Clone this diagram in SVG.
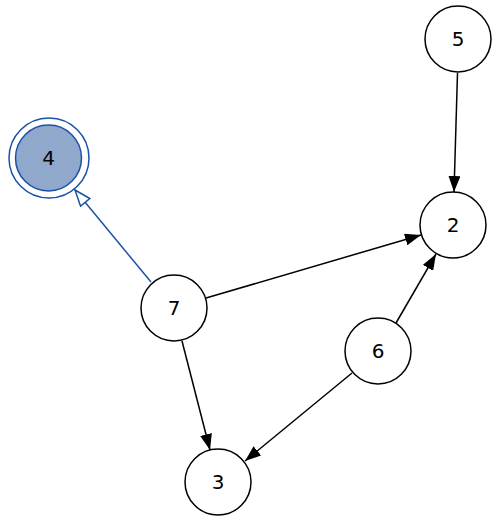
<svg xmlns="http://www.w3.org/2000/svg" width="500" height="524" viewBox="0 0 500 524">
<style>
.n{fill:#fff;stroke:#000;stroke-width:1.5}
.t{font-family:"DejaVu Sans",sans-serif;font-size:20px;text-anchor:middle;dominant-baseline:central;fill:#000}
.e{stroke:#000;stroke-width:1.5;fill:none}
.b{stroke:#1a52a8;stroke-width:1.5;fill:none}
</style>
<defs>
<marker id="a" viewBox="0 0 16 12" refX="16" refY="6" markerWidth="16" markerHeight="12" markerUnits="userSpaceOnUse" orient="auto"><path d="M0,0 L16,6 L0,12 Z" fill="#000"/></marker>
<marker id="o" viewBox="0 0 18 14" refX="17" refY="7" markerWidth="18" markerHeight="14" markerUnits="userSpaceOnUse" orient="auto"><path d="M1,1 L17,7 L1,13 Z" fill="#fff" stroke="#1a52a8" stroke-width="1.5"/></marker>
</defs>
<g id="edges">
<line class="e" x1="457.5" y1="73" x2="454" y2="192" marker-end="url(#a)"/>
<line class="e" x1="206" y1="298" x2="421" y2="235" marker-end="url(#a)"/>
<line class="e" x1="396" y1="323" x2="436" y2="254" marker-end="url(#a)"/>
<line class="e" x1="182" y1="341" x2="210" y2="450" marker-end="url(#a)"/>
<line class="e" x1="352" y1="373" x2="245" y2="461" marker-end="url(#a)"/>
<line class="b" x1="151" y1="282" x2="75" y2="190" marker-end="url(#o)"/>
</g>
<g id="n4"><circle cx="49" cy="158" r="40" fill="#fff" stroke="#1a52a8" stroke-width="1.5"/><circle cx="48.5" cy="158" r="33" fill="#8fa8cc" stroke="#1a52a8" stroke-width="1.5"/><text class="t" x="48.5" y="158">4</text></g>
<g id="n5"><circle class="n" cx="458" cy="39" r="33"/><text class="t" x="458" y="39">5</text></g>
<g id="n2"><circle class="n" cx="453" cy="225" r="33"/><text class="t" x="453" y="225">2</text></g>
<g id="n7"><circle class="n" cx="174" cy="308" r="33"/><text class="t" x="174" y="308">7</text></g>
<g id="n6"><circle class="n" cx="378" cy="351" r="33"/><text class="t" x="378" y="351">6</text></g>
<g id="n3"><circle class="n" cx="218" cy="482" r="33"/><text class="t" x="218" y="482">3</text></g>
</svg>
